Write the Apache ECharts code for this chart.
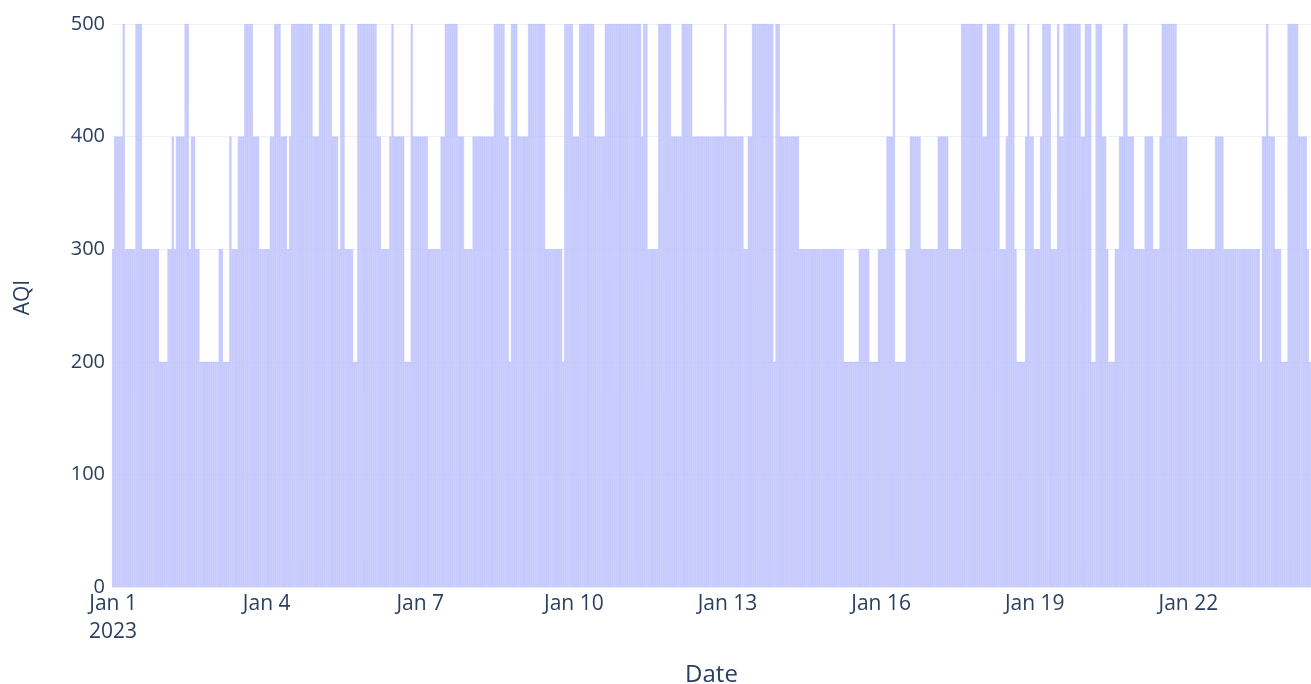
<!DOCTYPE html>
<html>
<head>
<meta charset="utf-8">
<script src="https://cdn.jsdelivr.net/npm/echarts@6/dist/echarts.min.js"></script>
<style>
html,body{margin:0;padding:0;background:#fff;}
#chart{width:1311px;height:684px;}
</style>
</head>
<body>
<div id="chart"></div>
<script>
// Hourly AQI readings, one array per day (00:00 .. 23:00), starting Jan 1 2023
const startDate = '2023-01-01T00:00:00';
const aqiJan01 = [300,400,400,400,400,500,300,300,300,300,300,500,500,500,300,300,300,300,300,300,300,300,200,200];
const aqiJan02 = [200,200,300,300,400,300,400,400,400,400,500,500,300,400,400,300,300,200,200,200,200,200,200,200];
const aqiJan03 = [200,200,300,300,200,200,200,400,300,300,300,400,400,400,500,500,500,500,400,400,400,300,300,300];
const aqiJan04 = [300,300,400,400,500,500,500,400,400,400,300,400,500,500,500,500,500,500,500,500,500,500,400,400];
const aqiJan05 = [400,500,500,500,500,500,500,400,400,400,300,500,500,300,300,300,300,200,200,500,500,500,500,500];
const aqiJan06 = [500,500,500,500,400,400,300,300,300,300,400,500,400,400,400,400,400,200,200,200,500,400,400,400];
const aqiJan07 = [400,400,400,400,300,300,300,300,300,300,400,400,500,500,500,500,500,500,400,400,400,300,300,300];
const aqiJan08 = [300,400,400,400,400,400,400,400,400,400,400,500,500,500,500,500,400,400,200,500,500,500,400,400];
const aqiJan09 = [400,400,400,500,500,500,500,500,500,500,500,300,300,300,300,300,300,300,300,200,500,500,500,500];
const aqiJan10 = [400,400,400,500,500,500,500,500,500,500,400,400,400,400,400,500,500,500,500,500,500,500,500,500];
const aqiJan11 = [500,500,500,500,500,500,500,500,400,500,500,300,300,300,300,300,500,500,500,500,500,500,400,400];
const aqiJan12 = [400,400,400,500,500,500,500,500,400,400,400,400,400,400,400,400,400,400,400,400,400,400,400,500];
const aqiJan13 = [400,400,400,400,400,400,400,400,300,300,400,400,500,500,500,500,500,500,500,500,500,500,200,500];
const aqiJan14 = [500,400,400,400,400,400,400,400,400,400,300,300,300,300,300,300,300,300,300,300,300,300,300,300];
const aqiJan15 = [300,300,300,300,300,300,300,200,200,200,200,200,200,200,300,300,300,300,300,200,200,200,200,300];
const aqiJan16 = [300,300,300,400,400,400,500,200,200,200,200,200,300,300,400,400,400,400,400,300,300,300,300,300];
const aqiJan17 = [300,300,300,400,400,400,400,400,300,300,300,300,300,300,500,500,500,500,500,500,500,500,500,500];
const aqiJan18 = [400,400,500,500,500,500,500,500,300,300,300,400,500,500,500,300,200,200,200,200,400,500,400,400];
const aqiJan19 = [300,300,300,400,500,500,500,500,300,300,300,500,400,400,500,500,500,500,500,500,500,500,400,400];
const aqiJan20 = [500,500,500,200,200,500,500,500,400,400,300,200,200,200,300,300,400,400,500,500,400,400,400,300];
const aqiJan21 = [300,300,300,300,400,400,400,400,300,300,300,400,500,500,500,500,500,500,500,400,400,400,400,400];
const aqiJan22 = [300,300,300,300,300,300,300,300,300,300,300,300,300,400,400,400,400,300,300,300,300,300,300,300];
const aqiJan23 = [300,300,300,300,300,300,300,300,300,300,200,400,400,500,400,400,400,300,300,300,200,200,200,500];
const aqiJan24 = [500,500,500,500,400,400,400,400,300,200];
const yTicks = [0,100,200,300,400,500];

const days = [aqiJan01,aqiJan02,aqiJan03,aqiJan04,aqiJan05,aqiJan06,aqiJan07,aqiJan08,
  aqiJan09,aqiJan10,aqiJan11,aqiJan12,aqiJan13,aqiJan14,aqiJan15,aqiJan16,aqiJan17,
  aqiJan18,aqiJan19,aqiJan20,aqiJan21,aqiJan22,aqiJan23,aqiJan24];

const values = [];
const categories = [];
days.forEach((arr, d) => {
  arr.forEach((v, h) => {
    values.push(v);
    categories.push({day: d + 1, hour: h});
  });
});
const catLabels = categories.map(c => 'Jan ' + c.day + ' ' + String(c.hour).padStart(2,'0') + ':00');

const font = '"Open Sans", verdana, arial, sans-serif';
const txt = '#2a3f5f';

const chart = echarts.init(document.getElementById('chart'), null, {renderer:'canvas'});
chart.setOption({
  animation: false,
  backgroundColor: '#ffffff',
  grid: {left: 112, right: 0, top: 24, bottom: 97, containLabel: false, outerBoundsMode: 'none'},
  xAxis: {
    type: 'category',
    data: catLabels,
    boundaryGap: true,
    name: 'Date',
    nameLocation: 'middle',
    nameGap: 76,
    nameTextStyle: {fontFamily: font, fontSize: 24, color: txt},
    axisLine: {show: false},
    axisTick: {show: false},
    splitLine: {show: false},
    axisLabel: {
      interval: function(i){ return categories[i].hour === 0 && (categories[i].day - 1) % 3 === 0; },
      formatter: function(v, i){
        const c = categories[i];
        return c.day === 1 ? 'Jan 1\n2023' : 'Jan ' + c.day;
      },
      fontFamily: font, fontSize: 21, color: txt, lineHeight: 28, margin: 3,
      showMinLabel: true
    }
  },
  yAxis: {
    type: 'value',
    min: 0, max: 500, interval: 100,
    name: 'AQI',
    nameLocation: 'middle',
    nameGap: 78,
    nameRotate: 90,
    nameTextStyle: {fontFamily: font, fontSize: 21, color: txt, padding: [0, 0, 0, 16]},
    axisLine: {show: false},
    axisTick: {show: false},
    splitLine: {lineStyle: {color: '#ebf0f8', width: 1}},
    axisLabel: {fontFamily: font, fontSize: 20, color: txt, margin: 7,
      formatter: function(v){ return yTicks.indexOf(v) >= 0 ? String(v) : ''; }}
  },
  series: [{
    type: 'bar',
    data: values,
    barCategoryGap: '0%',
    itemStyle: {color: '#cdd1fd', borderColor: 'rgba(150,158,250,0.55)', borderWidth: 0.5}
  }]
});
</script>
</body>
</html>
